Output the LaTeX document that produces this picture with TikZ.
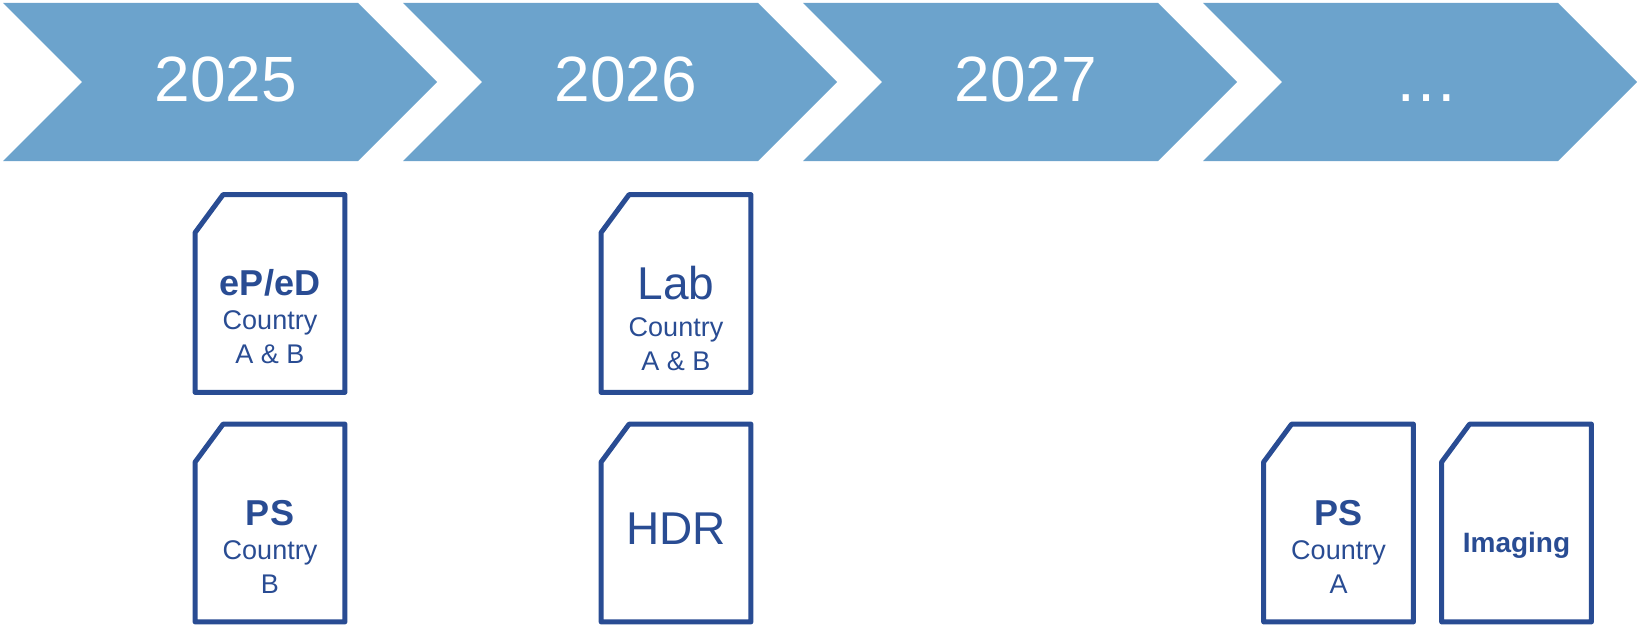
\documentclass[tikz,border=0pt]{standalone}
\usepackage{fontspec}
\setmainfont{Liberation Sans}
\usetikzlibrary{positioning, shapes.symbols}

\definecolor{stepblue}{RGB}{108,163,204}
\definecolor{docblue}{RGB}{41,76,147}
\newcommand{\titlesize}{\fontsize{18}{17}\selectfont}
\newcommand{\bigsize}{\fontsize{23}{17}\selectfont}

\begin{document}
\begin{tikzpicture}[x=0.5pt, y=-0.5pt,
		yearstep/.style={signal, signal to=east, signal from=west, signal pointer angle=90,
			fill=stepblue, minimum width=217pt, minimum height=79pt, inner sep=0pt},
		yeartext/.style={anchor=base, inner sep=0pt, text=white, font=\fontsize{32}{32}\selectfont},
		docbox/.style={rectangle, minimum width=74.5pt, minimum height=98.5pt, inner sep=0pt},
		docline/.style={draw=docblue, line width=2.5pt, line join=round},
		doctext/.style={align=center, text=docblue, font=\fontsize{13.5}{17}\selectfont}]
			\useasboundingbox (0,0) rectangle (1637,626);
			% Timeline
			\node[yearstep] (s2025) at (220,82) {};
			\node[yearstep] (s2026) at (620,82) {};
			\node[yearstep] (s2027) at (1020,82) {};
			\node[yearstep] (slater) at (1420,82) {};
			\node[yeartext] (y2025) at (226,102) {2025};
			\node[yeartext] (y2026) at (626,102) {2026};
			\node[yeartext] (y2027) at (1026,102) {2027};
			\node[yeartext] (ylater) at (1426,102) {\dots};
			% Documents 2025
			\node[docbox] (epedA) at (270,293.5) {};
			\node[doctext] (epedAtxt) at (270,317) {{\bfseries\titlesize eP/eD}\\Country\\A \& B};
			\node[docbox] (psB) at (270,523) {};
			\node[doctext] (psBtxt) at (270,547) {{\bfseries\titlesize PS}\\Country\\B};
			% Documents 2026
			\node[docbox] (labAB) at (676,293.5) {};
			\node[doctext] (labABtxt) at (676,318) {{\bigsize Lab}\\[1.5pt]Country\\A \& B};
			\node[docbox] (hdr) at (676,523) {};
			\node[doctext, font=\bigsize] (hdrtxt) at (676,529) {HDR};
			% Documents later
			\node[docbox] (psA) at (1338.5,523) {};
			\node[doctext] (psAtxt) at (1338.5,547) {{\bfseries\titlesize PS}\\Country\\A};
			\node[docbox] (imaging) at (1516.5,523) {};
			\node[doctext, font=\fontsize{14}{17}\selectfont\bfseries] (imagingtxt) at (1516.5,545) {Imaging};
			% Outlines with cut corner
			\foreach \d in {epedA, psB, labAB, hdr, psA, imaging}
				\draw[docline] (\d.south west) -- (\d.south east) -- (\d.north east)
					-- ([xshift=14pt]\d.north west) -- ([yshift=-19pt]\d.north west) -- cycle;
		\end{tikzpicture}
\end{document}
